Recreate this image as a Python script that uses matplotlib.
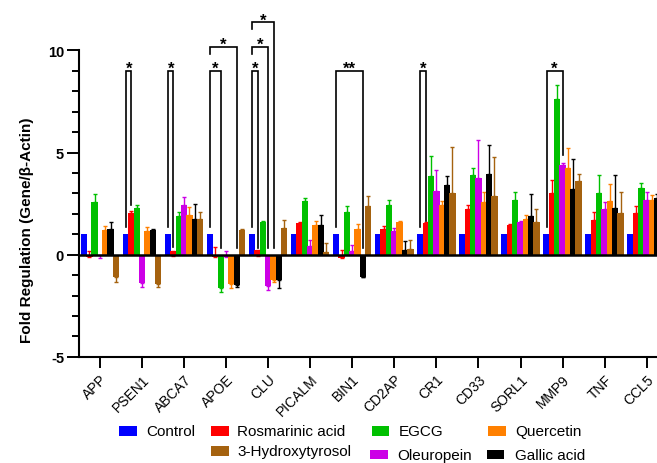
import matplotlib
matplotlib.use('Agg')
import matplotlib.pyplot as plt
from matplotlib.patches import Rectangle
from matplotlib.ticker import FixedLocator
import numpy as np

plt.rcParams['font.family'] = ['Liberation Sans', 'DejaVu Sans']
plt.rcParams['axes.unicode_minus'] = False

# ---------------- data ----------------
genes = ['APP', 'PSEN1', 'ABCA7', 'APOE', 'CLU', 'PICALM', 'BIN1', 'CD2AP',
         'CR1', 'CD33', 'SORL1', 'MMP9', 'TNF', 'CCL5']

series_names = ['Control', 'Rosmarinic acid', 'EGCG', 'Oleuropein',
                'Quercetin', 'Gallic acid', '3-Hydroxytyrosol']

control = [1.0, 1.0, 1.0, 1.0, 1.0, 1.0, 1.0, 1.0, 1.0, 1.0, 1.0, 1.0, 1.0, 1.0]
control_err = [0, 0, 0, 0, 0, 0, 0, 0, 0, 0, 0, 0, 0, 0]

rosmarinic = [-0.13, 2.04, 0.20, -0.12, 0.22, 1.55, -0.15, 1.26, 1.55, 2.23, 1.44, 3.01, 1.69, 2.06]
rosmarinic_err = [0.33, 0.10, -0.27, 0.48, -0.30, 0.06, 0.38, 0.15, 0.06, 0.19, 0.05, 0.64, 0.42, 0.31]

egcg = [2.59, 2.28, 1.88, -1.65, 1.58, 2.64, 2.07, 2.43, 3.85, 3.89, 2.67, 7.61, 3.01, 3.24]
egcg_err = [0.37, 0.15, 0.20, -0.16, 0.08, 0.13, 0.30, 0.23, 0.96, 0.33, 0.40, 0.70, 0.90, 0.29]

oleuropein = [-0.03, -1.39, 2.45, -0.12, -1.55, 0.41, 0.20, 1.14, 3.13, 3.73, 1.58, 4.38, 2.23, 2.67]
oleuropein_err = [-0.12, -0.21, 0.36, 0.30, -0.16, 0.31, 0.27, 0.15, 1.03, 1.87, 0.05, 0.13, 0.33, 0.42]

quercetin = [1.21, 1.16, 1.94, -1.44, -1.24, 1.45, 1.26, 1.58, 2.43, 2.60, 1.74, 4.23, 2.62, 2.70]
quercetin_err = [0.18, 0.20, 0.38, -0.20, -0.08, 0.21, 0.22, 0.07, 0.20, 0.49, 0.20, 1.00, 0.86, 0.21]

gallic = [1.26, 1.21, 1.75, -1.48, -1.24, 1.45, -1.08, 0.23, 3.40, 3.97, 1.87, 3.20, 2.27, 2.75]
gallic_err = [0.33, 0.05, 0.73, -0.10, -0.40, 0.50, -0.03, 0.45, 0.46, 1.39, 1.12, 1.50, 1.63, 0.20]

hydroxytyrosol = [-1.11, -1.44, 1.75, 1.22, 1.32, 0.15, 2.40, 0.28, 3.01, 2.88, 1.58, 3.60, 2.06, 2.70]
hydroxytyrosol_err = [-0.21, -0.13, 0.33, 0.03, 0.38, 0.42, 0.45, 0.45, 2.25, 1.88, 0.68, 0.34, 1.03, 0.20]

series_values = [control, rosmarinic, egcg, oleuropein, quercetin, gallic, hydroxytyrosol]
series_errors = [control_err, rosmarinic_err, egcg_err, oleuropein_err,
                 quercetin_err, gallic_err, hydroxytyrosol_err]

# significance brackets: gene, left bar, right bar, top, left leg end, right leg end, label
brackets = [
    (1, 0, 1, 9.0, 1.37, 2.42, '*'),
    (2, 0, 1, 9.0, 1.37, 0.40, '*'),
    (3, 0, 2, 9.0, 1.37, 0.35, '*'),
    (3, 0, 5, 10.18, 9.82, 0.35, '*'),
    (4, 0, 1, 9.0, 1.37, 0.35, '*'),
    (4, 0, 3, 10.18, 9.82, 0.35, '*'),
    (4, 0, 4, 11.37, 11.02, 0.35, '*'),
    (6, 0, 5, 9.0, 1.37, 0.35, '**'),
    (8, 0, 1, 9.0, 1.37, 1.65, '*'),
    (11, 0, 3, 9.0, 1.37, 4.87, '*'),
]

# ---------------- style ----------------
colors = ['#0000ff', '#ff0000', '#00c000', '#cc00e6', '#ff8000', '#000000', '#a5620f']
spacing = 0.1268
width = 0.152

W, H = 657, 464
fig = plt.figure(figsize=(W / 100, H / 100), dpi=100)
ax = fig.add_axes([79.3 / W, 1 - 357.9 / H, 1 - 79.3 / W, 357.9 / H])

x = np.arange(len(genes))
for j, (vals, errs, col) in enumerate(zip(series_values, series_errors, colors)):
    xs = x + (j - 3) * spacing
    ax.bar(xs, vals, width=width, color=col, zorder=3, linewidth=0)
    v = np.array(vals)
    e = np.array(errs)
    upper = np.where(e > 0, e, 0)
    lower = np.where(e < 0, -e, 0)
    mask = e != 0
    ax.errorbar(xs[mask], v[mask], yerr=[lower[mask], upper[mask]], fmt='none',
                ecolor=col, elinewidth=1.0, capsize=1.6, capthick=1.0, zorder=2.5)

ax.axhline(0, color='black', lw=1.8, zorder=6)

# brackets
for g, a, b, top, ya, yb, lab in brackets:
    xa = g + (a - 3) * spacing
    xb = g + (b - 3) * spacing
    ax.plot([xa, xa, xb, xb], [ya, top, top, yb], color='black', lw=1.2,
            zorder=7, solid_joinstyle='miter', clip_on=False)
    ax.text((xa + xb) / 2, top - 0.1, lab, ha='center', va='baseline',
            fontsize=12, fontweight='bold', zorder=8)

ax.set_xlim(-0.492, 13.246)
ax.set_ylim(-5, 12.51)

for s in ['top', 'right']:
    ax.spines[s].set_visible(False)
ax.spines['left'].set_bounds(-5, 10)
ax.spines['left'].set_linewidth(1.5)
ax.spines['bottom'].set_linewidth(1.5)

ax.set_yticks([-5, 0, 5, 10])
ax.yaxis.set_minor_locator(FixedLocator([-4, -3, -2, -1, 1, 2, 3, 4, 6, 7, 8, 9]))
ax.tick_params(axis='y', which='major', length=9, width=1.4, direction='out', pad=2,
               labelsize=10.5)
ax.tick_params(axis='y', which='minor', length=4.8, width=1.4, direction='out')
for lbl in ax.get_yticklabels():
    lbl.set_fontweight('bold')
ax.set_ylabel('Fold Regulation (Gene/β-Actin)', fontsize=11, fontweight='bold')
ax.yaxis.set_label_coords(-0.079, 0.356)

ax.set_xticks(x)
ax.set_xticklabels(genes, rotation=45, ha='right', rotation_mode='anchor',
                   fontsize=10)
ax.tick_params(axis='x', which='major', length=7.7, width=1.4, direction='out', pad=3)
ax.tick_params(axis='x', which='minor', bottom=False)

# legend (manual)
legend_items = [
    ('Control', 0, 119.3, 427.3, 146.7, 432.5),
    ('Rosmarinic acid', 1, 211.0, 427.3, 237.3, 432.5),
    ('EGCG', 2, 371.7, 427.3, 398.3, 432.5),
    ('Quercetin', 4, 488.3, 427.3, 515.0, 432.5),
    ('3-Hydroxytyrosol', 6, 211.0, 447.3, 237.3, 452.0),
    ('Oleuropein', 3, 370.0, 450.7, 397.3, 456.0),
    ('Gallic acid', 5, 486.7, 450.7, 515.0, 456.0),
]
for name, ci, px, py, tx, ty in legend_items:
    fig.add_artist(Rectangle((px / W, 1 - (py + 9.5) / H), 17.5 / W, 9.5 / H,
                             transform=fig.transFigure, color=colors[ci], lw=0))
    fig.text(tx / W, 1 - ty / H, name, ha='left', va='center', fontsize=11)

fig.savefig('out.png', dpi=100)
